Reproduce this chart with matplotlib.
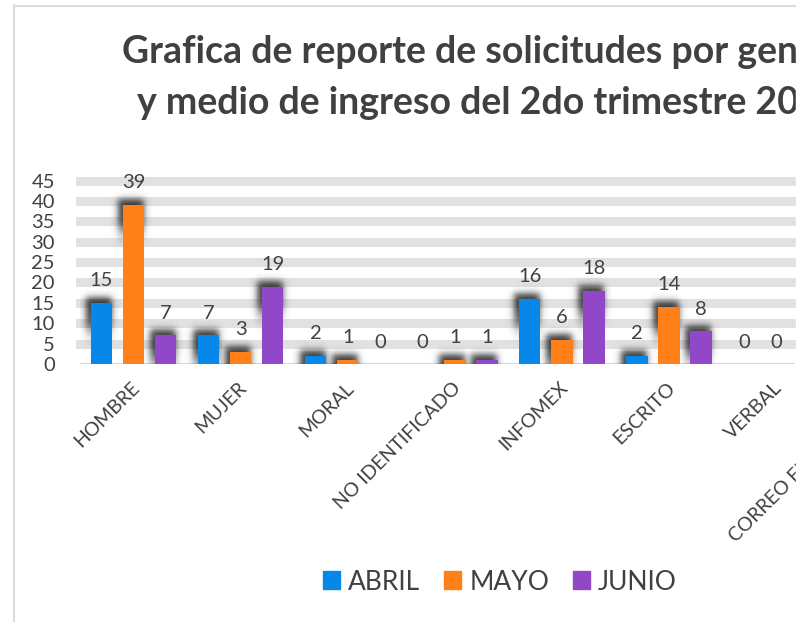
import numpy as np
import matplotlib
matplotlib.use('Agg')
import matplotlib.pyplot as plt
from matplotlib.transforms import ScaledTranslation, blended_transform_factory
from matplotlib.lines import Line2D
from matplotlib.patches import Patch, Rectangle

plt.rcParams['font.family'] = ['Lato', 'DejaVu Sans']

# data
categorias = ['HOMBRE', 'MUJER', 'MORAL', 'NO IDENTIFICADO', 'INFOMEX',
              'ESCRITO', 'VERBAL', 'CORREO ELECTRONICO']
abril = [15, 7, 2, 0, 16, 2, 0, 6]
mayo = [39, 3, 1, 1, 6, 14, 0, 24]
junio = [7, 19, 0, 1, 18, 8, 0, 1]
meses = ['ABRIL', 'MAYO', 'JUNIO']
colores = ['#0788E8', '#FF8019', '#9148C8']
yticks = [0, 5, 10, 15, 20, 25, 30, 35, 40, 45]

W, H = 803, 622
fig = plt.figure(figsize=(W / 100, H / 100), dpi=100)
ax = fig.add_axes([80 / W, 1 - 364 / H, 715 / W, 183.5 / H])

x = np.arange(len(categorias))
xmax = (795 - 133.5) / 107.1
px_x = 1 / 107.1   # one pixel in data units
px_y = 45 / 183.5


def soft_step(d, s):
    return 1 / (1 + np.exp(-1.7 * d / s))


def shadow(xc, width, v):
    # blurred dark blob behind the top-left of a bar (excel shadow effect)
    x0, x1 = xc - width / 2 - 5 * px_x, xc + width / 2 - 0.5 * px_x
    y0, y1 = v - 26 * px_y, v + 5.5 * px_y
    gx = np.linspace(x0 - 14 * px_x, x1 + 14 * px_x, 90)
    ylo = max(0, y0 - 24 * px_y)
    gy = np.linspace(ylo, y1 + 14 * px_y, 100)
    sx = soft_step(gx - x0, 3.5 * px_x) * soft_step(x1 - gx, 3.5 * px_x)
    sy = soft_step(gy - y0, 9 * px_y) * soft_step(y1 - gy, 3.5 * px_y)
    rgba = np.zeros((len(gy), len(gx), 4))
    rgba[..., 3] = 0.78 * np.outer(sy, sx)
    ax.imshow(rgba, extent=(gx[0], gx[-1], gy[0], gy[-1]), origin='lower',
              aspect='auto', interpolation='bilinear', zorder=2)


# thick grey gridlines (excel style)
for t in yticks[1:]:
    ax.axhline(t, color='#e1e1e1', lw=6.5, zorder=0, clip_on=False)
ax.axhline(0, color='#d9d9d9', lw=1.5, zorder=0)

w = 0.2
offs = [-0.3, 0.0, 0.3]
for serie, off, col in zip([abril, mayo, junio], offs, colores):
    pos = x + off
    for xi, vi in zip(pos, serie):
        if vi > 0:
            shadow(xi, w, vi)
    ax.bar(pos, serie, width=w, color=col, lw=0, zorder=3)
    for xi, vi in zip(pos, serie):
        if xi > xmax:
            continue
        ax.text(xi, vi, str(vi), ha='center', va='baseline', fontsize=14.5,
                color='#404040', zorder=4,
                transform=ax.transData + ScaledTranslation(0, 0.165, fig.dpi_scale_trans))

ax.set_xlim(-0.5, xmax)
ax.set_ylim(0, 45)
for s in ax.spines.values():
    s.set_visible(False)
ax.set_xticks([])
ax.set_yticks(yticks)
ax.tick_params(axis='y', length=0, pad=18, labelsize=14.5, labelcolor='#404040')

# rotated category labels
tr = blended_transform_factory(ax.transData, ax.transAxes) + \
    ScaledTranslation(-0.03, -0.15, fig.dpi_scale_trans)
for xi, c in zip(x, categorias):
    ax.text(xi, 0, c, rotation=45, ha='right', va='top', rotation_mode='anchor',
            fontsize=14, color='#404040', transform=tr, clip_on=False)

# title (chart is cropped on the right)
fig.text(122 / W, 1 - 63 / H, 'Grafica de reporte de solicitudes por genero',
         fontsize=27, fontweight='bold', color='#404040', ha='left', va='baseline')
fig.text(137 / W, 1 - 114 / H, 'y medio de ingreso del 2do trimestre 2019',
         fontsize=27, fontweight='bold', color='#404040', ha='left', va='baseline')

handles = [Patch(color=c) for c in colores]
fig.legend(handles, meses, loc='center', bbox_to_anchor=(500 / W, 1 - 582 / H),
           ncol=3, frameon=False, fontsize=19, handlelength=0.65, handleheight=0.65,
           handletextpad=0.3, columnspacing=0.9, labelcolor='#404040')

# chart border
fig.add_artist(Line2D([14.5 / W, 14.5 / W], [1 - 5 / H, 0], color='#dcdcdc', lw=1.5))
fig.add_artist(Line2D([14 / W, 795 / W], [1 - 5.5 / H, 1 - 5.5 / H], color='#dcdcdc', lw=1.5))
# the source image is cropped at x=795
fig.add_artist(Rectangle((796 / W, 0), 7 / W, 1, transform=fig.transFigure,
                         color='white', zorder=10))

fig.savefig('out.png', dpi=100)
